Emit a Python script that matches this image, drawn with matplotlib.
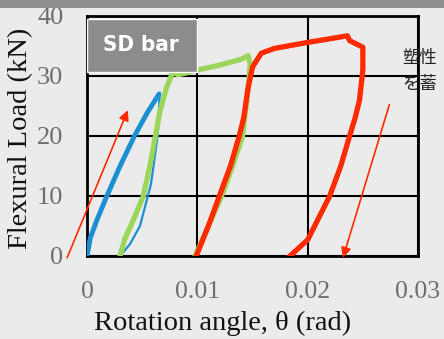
import matplotlib
matplotlib.use("Agg")
import matplotlib.pyplot as plt
from matplotlib.patches import Rectangle, FancyArrowPatch

# ---- data (rotation angle in rad, load in kN) ----
blue_load_x = [0.0, 0.0003, 0.0009, 0.0018, 0.0030, 0.0043, 0.0055, 0.0066]
blue_load_y = [0.0, 3.0, 6.0, 10.0, 15.0, 20.0, 24.0, 27.2]
blue_unload_x = [0.0066, 0.0064, 0.0058, 0.0048, 0.0039, 0.0030]
blue_unload_y = [27.2, 20.0, 12.0, 5.0, 2.0, 0.0]

green_x = [0.0030, 0.0034, 0.0042, 0.0051, 0.0057, 0.0062, 0.0066, 0.0072, 0.0077,
           0.0080, 0.0082, 0.0090, 0.0100, 0.0120, 0.0140, 0.0146,
           0.0148, 0.0146, 0.0141, 0.0132, 0.0122, 0.0110, 0.0098]
green_y = [0.0, 2.7, 6.0, 10.0, 15.0, 20.0, 24.0, 28.0, 30.3,
           30.6, 30.2, 30.5, 31.0, 31.8, 32.8, 33.4,
           32.0, 28.0, 20.0, 15.0, 10.0, 5.0, 0.0]

red_x = [0.0099, 0.0110, 0.0120, 0.0130, 0.0138, 0.0142, 0.0146, 0.0150, 0.0158,
         0.0170, 0.0200, 0.0220, 0.0236, 0.0238, 0.0250, 0.0250, 0.0247, 0.0243,
         0.0238, 0.0230, 0.0220, 0.0200, 0.0184]
red_y = [0.0, 5.0, 10.0, 15.0, 20.0, 23.0, 28.0, 31.5, 33.8,
         34.6, 35.6, 36.2, 36.7, 35.9, 34.8, 31.0, 26.0, 23.0,
         20.0, 15.0, 10.0, 2.7, 0.0]

arrow_up = [(-0.0018, -0.3), (0.0037, 24.3)]
arrow_down = [(0.0274, 25.2), (0.0232, -0.3)]

xticks = [0, 0.01, 0.02, 0.03]
xticklabels = ["0", "0.01", "0.02", "0.03"]
yticks = [0, 10, 20, 30, 40]
yticklabels = ["0", "10", "20", "30", "40"]

BG = "#ebebeb"
serif = ["Liberation Serif", "DejaVu Serif"]

fig = plt.figure(figsize=(4.44, 3.39), dpi=100, facecolor=BG)
ax = fig.add_axes([87/444, 1-256/339, (418-87)/444, (256-16)/339])
ax.set_facecolor(BG)
fig.patches.append(Rectangle((0, 1-8/339), 1, 8/339, transform=fig.transFigure,
                             facecolor="#8f8f8f", edgecolor="none", zorder=0))

ax.set_xlim(0, 0.03)
ax.set_ylim(0, 40)
ax.set_xticks(xticks)
ax.set_xticklabels(xticklabels)
ax.set_yticks(yticks)
ax.set_yticklabels(yticklabels)
ax.tick_params(axis="x", length=0, pad=18, labelsize=18.5, labelcolor="#6e6e6e")
ax.tick_params(axis="y", length=0, pad=17, labelsize=19, labelcolor="#6e6e6e")
for lab in ax.get_xticklabels() + ax.get_yticklabels():
    lab.set_family(serif)
ax.grid(True, color="black", lw=1.5)
for s in ax.spines.values():
    s.set_linewidth(2)
    s.set_color("black")

ax.set_xlabel("Rotation angle, θ (rad)", family=serif, fontsize=20.5, color="#111111")
ax.set_ylabel("Flexural Load (kN)", family=serif, fontsize=20.5, color="#111111")
ax.yaxis.set_label_coords(-0.163, 0.49)
ax.xaxis.set_label_coords(0.41, -0.23)

ax.plot(blue_load_x, blue_load_y, color="#1b8fd2", lw=3.5, solid_capstyle="butt", zorder=3)
ax.plot(blue_unload_x, blue_unload_y, color="#1b8fd2", lw=1.6, zorder=3)
ax.plot(green_x, green_y, color="#9bd65a", lw=3.8, zorder=4)
ax.plot(red_x, red_y, color="#ff2a00", lw=3.8, zorder=5)

for (p0, p1) in (arrow_up, arrow_down):
    a = FancyArrowPatch(p0, p1, arrowstyle="-|>,head_length=6,head_width=3",
                        color="#ff2a00", lw=1.2, clip_on=False, zorder=6,
                        shrinkA=0, shrinkB=0)
    ax.add_patch(a)

# SD bar label box
ax.add_patch(Rectangle((0.0, 30.7), 0.00993, 8.8, facecolor="#8c8c8c",
                       edgecolor="white", lw=1.0, zorder=7))
ax.text(0.00484, 35.2, "SD bar", color="white", fontsize=16, fontweight="bold",
        family="DejaVu Sans", fontstretch="condensed",
        ha="center", va="center", zorder=8)

fig.text(402/444, 1-58/339, "塑性", family=["Noto Sans CJK JP", "DejaVu Sans"],
         fontsize=12.5, color="#222222", va="center", ha="left")
fig.text(402/444, 1-84/339, "を蓄", family=["Noto Sans CJK JP", "DejaVu Sans"],
         fontsize=12.5, color="#222222", va="center", ha="left")

fig.savefig("out.png", dpi=100, facecolor=BG)
